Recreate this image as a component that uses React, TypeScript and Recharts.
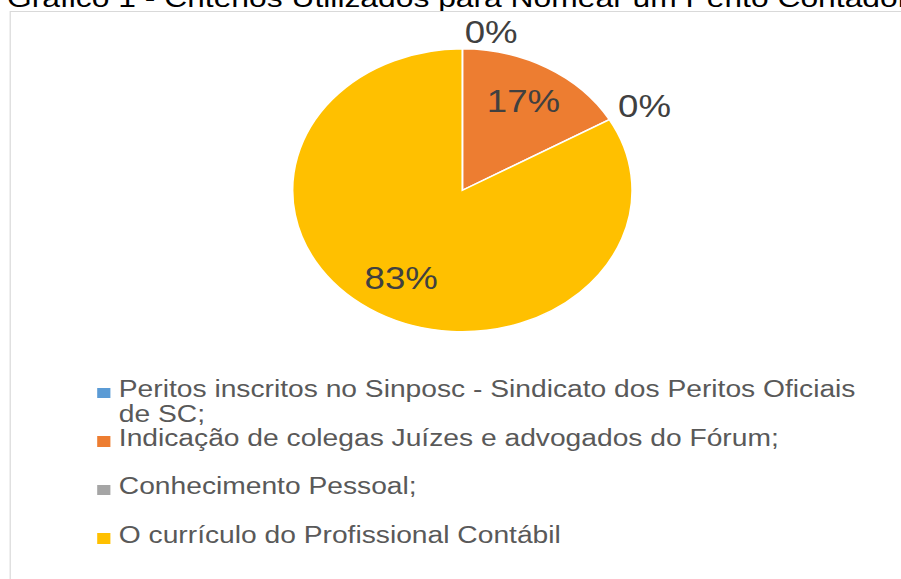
import { PieChart, Pie, Cell, Legend } from "recharts";

// chart data
const categories = [
  "Peritos inscritos no Sinposc - Sindicato dos Peritos Oficiais de SC;",
  "Indicação de colegas Juízes e advogados do Fórum;",
  "Conhecimento Pessoal;",
  "O currículo do Profissional Contábil",
];
const counts = [0, 1, 0, 5];
const colors = ["#5B9BD5", "#ED7D31", "#A5A5A5", "#FFC000"];
const title = "Gráfico 1 - Critérios Utilizados para Nomear um Perito Contador";

const chartData = categories.map((name, i) => ({ name, value: counts[i] }));

const RAD = Math.PI / 180;
const STRETCH = 1.2; // the source picture is stretched horizontally

const renderLabel = ({ cx, cy, midAngle, outerRadius, percent }: any) => {
  const pct = `${Math.round(percent * 100)}%`;
  if (percent < 0.05) {
    // tiny slices: label outside, next to the edge
    const r = outerRadius + 6;
    const x = cx + r * Math.cos(-midAngle * RAD);
    const y = cy + r * Math.sin(-midAngle * RAD);
    return (
      <text x={x + 2} y={y} fill="#404040" fontSize={30.5} textAnchor="start">
        {pct}
      </text>
    );
  }
  const r = outerRadius * 0.72;
  const x = cx + r * Math.cos(-midAngle * RAD);
  const y = cy + r * Math.sin(-midAngle * RAD);
  return (
    <text
      x={x}
      y={y}
      fill="#404040"
      fontSize={30.5}
      textAnchor="middle"
      dominantBaseline="central"
    >
      {pct}
    </text>
  );
};

const LegendList = () => (
  <div>
    {categories.map((name, i) => (
      <div key={name} style={{ position: "relative", height: 48.5 }}>
        <span
          style={{
            position: "absolute",
            left: 0,
            top: 10.5,
            width: 10.5,
            height: 10.5,
            background: colors[i],
          }}
        />
        <div
          style={{
            marginLeft: 18,
            width: 630,
            fontSize: 23.5,
            lineHeight: "25px",
            color: "#595959",
          }}
        >
          {name}
        </div>
      </div>
    ))}
  </div>
);

export default function App() {
  return (
    <div
      style={{
        position: "fixed",
        left: 0,
        top: 0,
        width: 901,
        height: 579,
        overflow: "hidden",
        background: "#fff",
      }}
    >
      <div
        style={{
          position: "absolute",
          left: 0,
          top: 0,
          width: 751,
          height: 579,
          transform: `scaleX(${STRETCH})`,
          transformOrigin: "0 0",
          fontFamily: "'Liberation Sans', Arial, sans-serif",
        }}
      >
        <div
          style={{
            position: "absolute",
            left: 5.8,
            top: -15.4,
            fontSize: 26.5,
            lineHeight: "26.5px",
            color: "#000",
            whiteSpace: "nowrap",
          }}
        >
          {title}
        </div>
        <div
          style={{
            position: "absolute",
            left: 7.5,
            top: 11,
            width: 900,
            height: 700,
            border: "1px solid #d9d9d9",
          }}
        />
        <div style={{ position: "absolute", left: 0, top: 0 }}>
          <PieChart
            width={751}
            height={579}
            margin={{ top: 0, right: 0, bottom: 0, left: 0 }}
          >
            <Pie
              data={chartData}
              dataKey="value"
              nameKey="name"
              cx={385.3}
              cy={190.3}
              outerRadius={141.5}
              startAngle={90}
              endAngle={-270}
              stroke="#ffffff"
              strokeWidth={1.5}
              label={renderLabel}
              labelLine={false}
              isAnimationActive={false}
            >
              {chartData.map((d, i) => (
                <Cell key={d.name} fill={colors[i]} />
              ))}
            </Pie>
            <Legend
              content={() => <LegendList />}
              wrapperStyle={{ left: 81, top: 377.3, width: 680, bottom: "auto" }}
            />
          </PieChart>
        </div>
      </div>
    </div>
  );
}
